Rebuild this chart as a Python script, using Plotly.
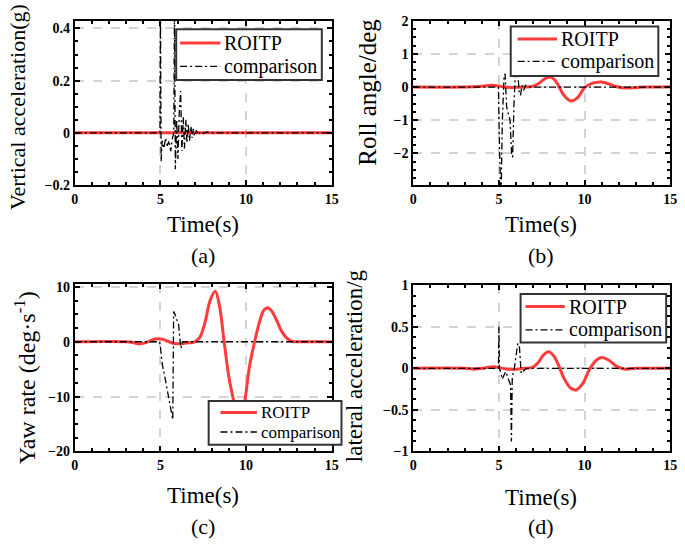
import plotly.graph_objects as go
from plotly.subplots import make_subplots

# (a) vertical acceleration, g
va_t_roitp = [0, 15]
va_roitp = [0, 0]
va_t_comp = [0, 4.97, 5.0, 5.04, 5.1, 5.2, 5.3, 5.4, 5.5, 5.6, 5.7, 5.78, 5.82, 5.87,
             5.95, 6.02, 6.1, 6.18, 6.25, 6.33, 6.4, 6.48, 6.55, 6.62, 6.7, 6.78, 6.85,
             6.92, 7.0, 7.1, 7.2, 7.35, 7.5, 7.7, 8.0, 15]
va_comp = [0, 0, 0.5, -0.11, -0.03, -0.06, -0.02, -0.05, -0.03, -0.07, -0.02, 0, 0.5, -0.14,
           0.05, -0.1, 0.08, 0.16, -0.07, 0.06, -0.06, 0.05, -0.04, 0.035, -0.03, 0.025, -0.02,
           0.015, -0.012, 0.01, -0.008, 0.005, -0.003, 0.003, 0, 0]

# (b) roll angle, deg
ra_t_roitp = [0, 3, 4, 4.6, 5.1, 5.5, 6, 6.5, 6.95, 7.3, 7.6, 8.0, 8.25, 8.5, 8.8, 9.2,
              9.6, 10.0, 10.4, 10.7, 11.0, 11.4, 11.9, 12.4, 13.0, 13.5, 14, 15]
ra_roitp = [0, 0, 0.02, 0.05, 0.02, -0.01, -0.01, 0, 0.02, 0.1, 0.22, 0.3, 0.22, 0.02, -0.25, -0.42,
            -0.32, -0.02, 0.1, 0.14, 0.15, 0.1, 0.01, -0.03, -0.02, 0, 0, 0]
ra_t_comp = [0, 4.97, 5.02, 5.08, 5.12, 5.2, 5.3, 5.36, 5.45, 5.55, 5.65, 5.75, 5.8, 5.88,
             5.95, 6.02, 6.1, 6.18, 6.26, 6.35, 6.45, 6.55, 6.7, 7.0, 15]
ra_comp = [0, 0, -1.5, -3.5, -3.5, -1.0, 0.35, 0.4, -0.6, -0.8, -1.0, -2.1, -2.1, -0.5,
           0.3, 0.45, 0.45, -0.14, -0.25, 0.05, -0.1, 0.05, 0, 0, 0]

# (c) yaw rate, deg/s
yr_t_roitp = [0, 3.0, 3.4, 3.75, 4.1, 4.5, 4.8, 5.2, 5.5, 5.8, 6.2, 6.6, 7.0, 7.3, 7.6,
              7.9, 8.2, 8.45, 8.7, 9.0, 9.25, 9.6, 9.95, 10.2, 10.5, 10.8, 11.05, 11.27,
              11.5, 11.8, 12.1, 12.4, 12.7, 13.2, 14, 15]
yr_roitp = [0, 0, -0.15, -0.4, -0.2, 0.3, 0.55, 0.4, 0, -0.3, -0.35, -0.2, 0, 0.8, 3.5,
            7.5, 9.2, 6.5, 0.5, -6.5, -10.4, -16.5, -10.4, -4.5, 0, 3.8, 5.8, 6.2,
            5.6, 3.8, 1.8, 0.6, 0.05, 0, 0, 0]
yr_t_comp = [0, 4.95, 5.0, 5.1, 5.2, 5.35, 5.5, 5.62, 5.72, 5.77, 5.85, 5.95, 6.05, 6.15,
             6.2, 6.3, 6.5, 15]
yr_comp = [0, 0, -1, -4, -5.5, -8, -11, -13, -14.2, 5.5, 5, 4, 3.5, 0, -1.2, 0, 0, 0]

# (d) lateral acceleration, g
la_t_roitp = [0, 3, 3.6, 4.2, 4.7, 5.1, 5.5, 6, 6.5, 6.95, 7.3, 7.6, 7.9, 8.2, 8.5, 8.8,
              9.2, 9.5, 9.9, 10.3, 10.7, 11.0, 11.4, 11.9, 12.4, 13, 14, 15]
la_roitp = [0, 0, -0.01, 0.005, 0.02, 0.005, -0.01, -0.01, 0, 0.01, 0.07, 0.16, 0.2, 0.15,
            0.03, -0.12, -0.24, -0.26, -0.18, -0.01, 0.1, 0.13, 0.1, 0.02, -0.01, 0, 0, 0]
la_t_comp = [0, 4.97, 5.0, 5.03, 5.1, 5.2, 5.3, 5.4, 5.5, 5.6, 5.68, 5.73, 5.78, 5.9,
             6.0, 6.1, 6.2, 6.3, 6.45, 6.6, 7, 15]
la_comp = [0, 0, 0.5, 0, -0.05, -0.13, -0.08, -0.04, -0.1, -0.15, -0.2, -0.88, -0.1, 0.0,
           0.15, 0.3, 0.25, -0.06, -0.03, 0, 0, 0]

series_names = ["ROITP", "comparison"]

W, H = 685, 547
SERIF = "Liberation Serif"
RED = "#ff3b3b"
DASHDOT = "7px,3px,2px,3px"


def px(x):
    return x / W


def py(y):
    return 1 - y / H


panels = [
    # xd/yd: plot box in px; box: legend box (x0, y0, x1, y1) px; rows: legend row y px
    dict(t1=va_t_roitp, v1=va_roitp, t2=va_t_comp, v2=va_comp,
         xd=(72, 333), yd=(14, 183), yr=[-0.2, 0.43], yt=[-0.2, 0, 0.2, 0.4], ym=0.05,
         box=(175, 23, 323, 75), rows=(37, 61), lx=(179, 220), fs=20),
    dict(t1=ra_t_roitp, v1=ra_roitp, t2=ra_t_comp, v2=ra_comp,
         xd=(416, 677), yd=(14, 183), yr=[-2.95, 2], yt=[-2, -1, 0, 1, 2], ym=0.25,
         box=(515, 20, 665, 71), rows=(33, 56), lx=(522, 562), fs=20),
    dict(t1=yr_t_roitp, v1=yr_roitp, t2=yr_t_comp, v2=yr_comp,
         xd=(72, 333), yd=(285, 457), yr=[-20, 10.5], yt=[-20, -10, 0, 10], ym=2.5,
         box=(208, 405, 343, 450), rows=(417, 437), lx=(220, 257), fs=17),
    dict(t1=la_t_roitp, v1=la_roitp, t2=la_t_comp, v2=la_comp,
         xd=(416, 677), yd=(286, 457), yr=[-1, 1], yt=[-1, -0.5, 0, 0.5, 1], ym=0.125,
         box=(525, 295, 673, 345), rows=(308, 332), lx=(530, 570), fs=20),
]

fig = make_subplots(rows=2, cols=2)
tick_font = dict(family=SERIF, size=14, color="black", weight="bold")

for i, p in enumerate(panels):
    r, c = i // 2 + 1, i % 2 + 1
    fig.add_trace(go.Scatter(x=p["t1"], y=p["v1"], mode="lines", name=series_names[0],
                             line=dict(color=RED, width=3), line_shape="spline"),
                  row=r, col=c)
    fig.add_trace(go.Scatter(x=p["t2"], y=p["v2"], mode="lines", name=series_names[1],
                             line=dict(color="black", width=1.3, dash=DASHDOT)),
                  row=r, col=c)
    ax = dict(showline=True, linewidth=2, linecolor="black", mirror="allticks",
              ticks="inside", ticklen=5, tickwidth=1.5, tickcolor="black",
              showgrid=True, gridcolor="#d4d4d4", gridwidth=1.5, griddash="dash",
              zeroline=False, tickfont=tick_font)
    fig.update_xaxes(ax, range=[0, 15], tickvals=[0, 5, 10, 15],
                     domain=[px(p["xd"][0]), px(p["xd"][1])],
                     minor=dict(dtick=1, ticks="inside", ticklen=3, tickcolor="black", showgrid=False),
                     row=r, col=c)
    fig.update_yaxes(ax, range=p["yr"], tickvals=p["yt"],
                     domain=[py(p["yd"][1]), py(p["yd"][0])],
                     minor=dict(dtick=p["ym"], ticks="inside", ticklen=3, tickcolor="black", showgrid=False),
                     row=r, col=c)

    # legend box drawn by hand so its size matches the MATLAB one
    x0, y0, x1, y1 = p["box"]
    fig.add_shape(type="rect", xref="paper", yref="paper", layer="above",
                  x0=px(x0), x1=px(x1), y0=py(y1), y1=py(y0),
                  fillcolor="white", line=dict(color="#333333", width=2))
    styles = [dict(color=RED, width=3), dict(color="black", width=1.3, dash=DASHDOT)]
    for name, ry, st in zip(series_names, p["rows"], styles):
        fig.add_shape(type="line", xref="paper", yref="paper", layer="above",
                      x0=px(p["lx"][0]), x1=px(p["lx"][1]), y0=py(ry), y1=py(ry), line=st)
        fig.add_annotation(text=name, x=px(p["lx"][1] + 2), y=py(ry), xref="paper", yref="paper",
                           xanchor="left", yanchor="middle", showarrow=False,
                           font=dict(family=SERIF, size=p["fs"], color="black"))

# axis titles and panel captions
texts = [
    ("Vertical acceleration(g)", 13, 103, 22, -90),
    ("Roll angle/deg", 370, 88, 25, -90),
    ("Yaw rate (deg\u00b7s<sup>-1</sup>)", 21, 381, 24, -90),
    ("lateral acceleration/g", 357, 369, 23, -90),
    ("Time(s)", 202, 224, 23, 0),
    ("Time(s)", 546, 224, 23, 0),
    ("Time(s)", 202, 502, 23, 0),
    ("Time(s)", 546, 504, 23, 0),
    ("(a)", 202, 256, 22, 0),
    ("(b)", 546, 256, 22, 0),
    ("(c)", 202, 534, 22, 0),
    ("(d)", 546, 534, 22, 0),
]
for txt, x, y, size, ang in texts:
    fig.add_annotation(text=txt, x=px(x), y=py(y), xref="paper", yref="paper",
                       xanchor="center", yanchor="middle", showarrow=False, textangle=ang,
                       font=dict(family=SERIF, size=size, color="black"))

fig.update_layout(width=W, height=H, margin=dict(l=0, r=0, t=0, b=0),
                  paper_bgcolor="white", plot_bgcolor="white", showlegend=False)

fig.write_html("out.html", config={"displayModeBar": False},
               post_script="document.body.style.margin='0px';")
